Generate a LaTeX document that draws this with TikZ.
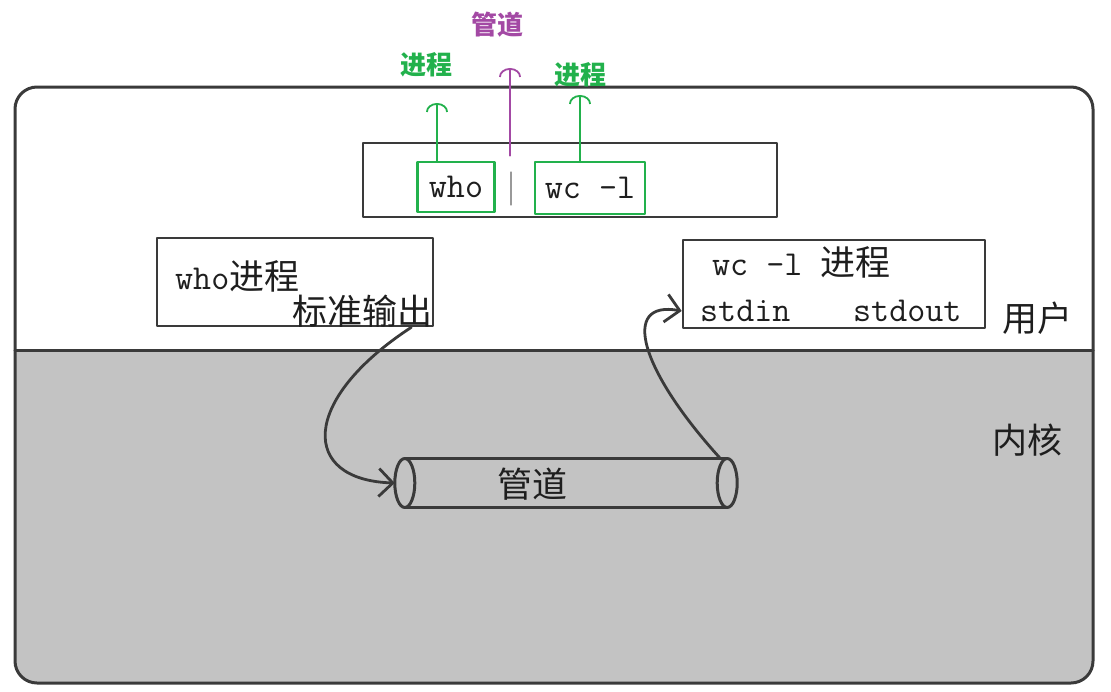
\documentclass[tikz,border=0pt]{standalone}
\usepackage{fontspec}
\setmainfont{Noto Sans CJK SC}
\usepackage{tikz}
\usetikzlibrary{arrows.meta,calc,positioning}
\definecolor{ppInk}{HTML}{1E1E1E}
\definecolor{ppLine}{HTML}{3A3A3A}
\definecolor{ppKernel}{HTML}{C3C3C3}
\definecolor{ppGreen}{HTML}{22B14C}
\definecolor{ppPurple}{HTML}{A349A4}
\tikzset{
  pp diagram/.style={x=1pt, y=-1pt, text=ppInk,
    line cap=round, line join=round},
  pp box/.style={draw=ppLine, fill=white, line width=2.6pt, inner sep=0pt},
  pp pick/.style={draw=ppGreen, line width=2.4pt, inner sep=0pt},
  pp cjk/.style={font=\fontsize{35}{40}\selectfont, inner sep=0pt},
  pp mono/.style={font=\ttfamily\fontsize{35}{40}\selectfont, inner sep=0pt},
  pp tag/.style={font=\bfseries\fontsize{26}{30}\selectfont, inner sep=0pt},
  pp up/.style={-{Arc Barb[length=9pt,width=22pt]}, line width=1.8pt},
  pp flow/.style={-{Straight Barb[length=14pt,width=28pt]}, draw=ppLine,
    line width=2.8pt},
  pp pipe/.style={draw=ppLine, line width=3pt}
}
\newcommand{\ppmono}[1]{{\ttfamily\fontsize{35}{40}\selectfont #1}}

\begin{document}
\begin{tikzpicture}[pp diagram]
\useasboundingbox (0,0) rectangle (1111,691);
% user / kernel frame
\begin{scope}
  \clip[rounded corners=22pt] (15,87) rectangle (1093,683);
  \fill[ppKernel] (15,350) rectangle (1093,683);
\end{scope}
\draw[ppLine,line width=3pt,rounded corners=22pt] (15,87) rectangle (1093,683);
\draw[ppLine,line width=3pt] (15,350) -- (1093,350);
\node[pp cjk] (userlbl) at (1037,318) {用户};
\node[pp cjk] (kernellbl) at (1027,440) {内核};

% command line
\node[pp box,minimum width=414pt,minimum height=74pt] (cmdline) at (570,180) {};
\node[pp pick,pp mono,minimum width=77pt,minimum height=50pt] (whocmd) at (456,187) {who};
\node[pp pick,pp mono,minimum width=110pt,minimum height=52pt] (wccmd) at (590,188) {wc -l};
\draw[black!40,line width=1.2pt] (511,172) -- (511,205);

\node[pp tag,text=ppGreen] (whotag) at (426,65) {进程};
\node[pp tag,text=ppPurple] (pipetag) at (497,25) {管道};
\node[pp tag,text=ppGreen] (wctag) at (580,75) {进程};
\coordinate (whotip) at (437,103);
\coordinate (pipetip) at (510,68);
\coordinate (wctip) at (580,95);
\draw[pp up,ppGreen] (whocmd.north -| whotip) -- (whotip);
\draw[pp up,ppPurple] ($(cmdline.north -| pipetip)+(0,14)$) -- (pipetip);
\draw[pp up,ppGreen] (wccmd.north -| wctip) -- (wctip);

% processes
\node[pp box,minimum width=276pt,minimum height=88pt] (whoproc) at (295,282) {};
\node[pp cjk,anchor=west] (whoname) at (175,276) {\ppmono{who}进程};
\node[pp cjk,anchor=east] (whoout) at (433,311) {标准输出};
\node[pp box,minimum width=302pt,minimum height=88pt] (wcproc) at (834,284) {};
\node[pp cjk,anchor=west] (wcname) at (712,262) {\ppmono{wc -l }进程};
\node[pp mono,anchor=west] (stdin) at (700,311) {stdin};
\node[pp mono,anchor=west] (stdout) at (853,311) {stdout};

% pipe in the kernel
\node[minimum width=322pt,minimum height=49pt,inner sep=0pt] (pipe) at (566,483) {};
\draw[pp pipe] (pipe.north west) -- (pipe.north east)
  (pipe.south west) -- (pipe.south east);
\draw[pp pipe] (pipe.west) ellipse (10 and 24.5);
\draw[pp pipe] (pipe.east) ellipse (10 and 24.5);
\node[pp cjk] (pipename) at (532,484) {管道};

\draw[pp flow] ([xshift=-23pt]whoproc.south east)
  .. controls (300,400) and (300,480) .. ([xshift=-10pt]pipe.west);
\draw[pp flow] ([xshift=-7pt]pipe.north east)
  .. controls (640,370) and (620,300) .. (wcproc.west |- stdin);
\end{tikzpicture}
\end{document}
